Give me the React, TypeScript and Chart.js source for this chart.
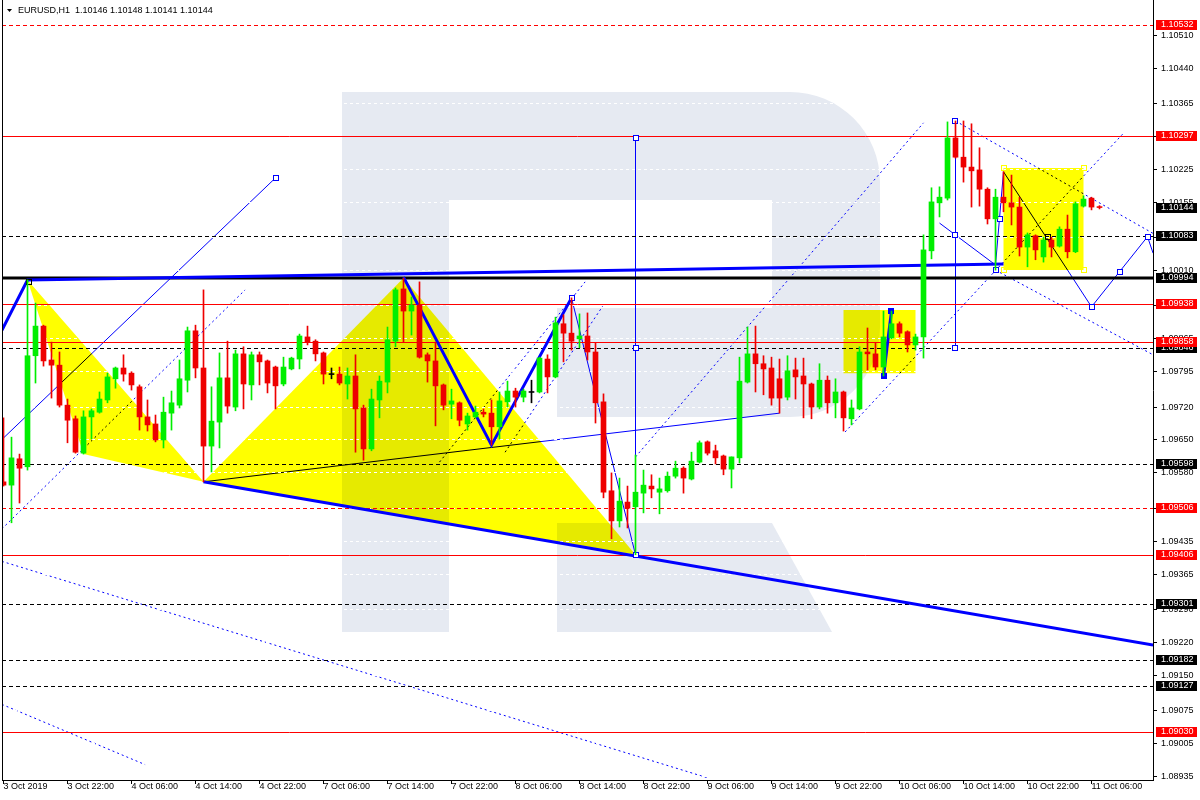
import React, { useEffect, useRef } from "react";
import { Chart, registerables } from "chart.js";

Chart.register(...registerables);

// ---------------- data (EURUSD H1, bar index 0 = 3 Oct 14:00) ----------------
const OPEN = [
  1.09561, 1.09554, 1.0961, 1.09593, 1.09829, 1.09892, 1.0982, 1.09809, 1.09724, 1.09695,
  1.09622, 1.09699, 1.09709, 1.09735, 1.0978, 1.09803, 1.09792, 1.09763, 1.09699, 1.09684,
  1.0965, 1.09707, 1.09724, 1.09777, 1.09882, 1.09803, 1.09637, 1.09688, 1.09782, 1.0972,
  1.09833, 1.09767, 1.09831, 1.09818, 1.09805, 1.09769, 1.09801, 1.09822, 1.09869, 1.0986,
  1.09835, 1.0979, 1.0979, 1.09769, 1.09786, 1.09718, 1.09631, 1.09735, 1.09773, 1.0986,
  1.09971, 1.09924, 1.09937, 1.09831, 1.09818, 1.09767, 1.09726, 1.09729, 1.09684, 1.09699,
  1.09709, 1.09707, 1.09678, 1.09731, 1.09754, 1.09741, 1.09752, 1.09752, 1.09822, 1.09784,
  1.09897, 1.09877, 1.09865, 1.09871, 1.09837, 1.09731, 1.09542, 1.09478, 1.09518, 1.09508,
  1.09537, 1.09552, 1.09539, 1.09542, 1.09573, 1.0959, 1.09567, 1.09603, 1.09646, 1.09627,
  1.09616, 1.09588, 1.09612, 1.09773, 1.09833, 1.09812, 1.09803, 1.0978, 1.09741, 1.09799,
  1.09786, 1.09769, 1.0972, 1.09777, 1.09729, 1.09752, 1.09695, 1.09716, 1.09837, 1.09833,
  1.09805, 1.09867, 1.09897, 1.0988, 1.09852, 1.09869, 1.10052, 1.10154, 1.10164, 1.10292,
  1.10251, 1.1023, 1.10224, 1.10183, 1.1012, 1.10166, 1.10154, 1.10145, 1.1006, 1.10084,
  1.10039, 1.10075, 1.10062, 1.10098, 1.1005, 1.10147, 1.10164, 1.10146,
];
const HIGH = [
  1.09697, 1.09656, 1.0962, 1.0999, 1.09941, 1.09894, 1.09858, 1.09837, 1.09737, 1.09701,
  1.09712, 1.09716, 1.09752, 1.09792, 1.09805, 1.09831, 1.09795, 1.09767, 1.09735, 1.09703,
  1.09741, 1.09754, 1.0982, 1.0989, 1.09894, 1.09969, 1.09763, 1.09835, 1.0986, 1.09841,
  1.09848, 1.09837, 1.09837, 1.0982, 1.09807, 1.09826, 1.09826, 1.09875, 1.09892, 1.09863,
  1.09837, 1.09803, 1.09805, 1.09803, 1.09831, 1.09724, 1.09758, 1.09786, 1.0989, 1.09973,
  1.09994, 1.09954, 1.09986, 1.09835, 1.09858, 1.09769, 1.09758, 1.09731, 1.09707, 1.09722,
  1.09716, 1.09735, 1.09752, 1.09775, 1.0976, 1.09758, 1.09777, 1.09826, 1.09831, 1.09911,
  1.09916, 1.09952, 1.09918, 1.0992, 1.09856, 1.09748, 1.0958, 1.09569, 1.09552, 1.09618,
  1.09586, 1.09576, 1.09569, 1.09582, 1.09605, 1.09593, 1.09624, 1.09648, 1.09648, 1.09639,
  1.09618, 1.09614, 1.09826, 1.0989, 1.09892, 1.09829, 1.09826, 1.09822, 1.09829, 1.09824,
  1.09824, 1.09771, 1.09812, 1.09786, 1.0978, 1.09754, 1.09735, 1.09848, 1.09888, 1.09856,
  1.09924, 1.09924, 1.09901, 1.09882, 1.09875, 1.10086, 1.10186, 1.10188, 1.10326, 1.10328,
  1.10328, 1.10322, 1.10271, 1.10186, 1.10183, 1.1022, 1.10213, 1.10166, 1.1009, 1.10086,
  1.10081, 1.10081, 1.10103, 1.10128, 1.10156, 1.10169, 1.10166, 1.10148,
];
const LOW = [
  1.09552, 1.09474, 1.09516, 1.09586, 1.09771, 1.09807, 1.09739, 1.0972, 1.09644, 1.09622,
  1.0962, 1.09652, 1.09707, 1.09729, 1.0976, 1.09775, 1.09756, 1.09671, 1.09669, 1.09646,
  1.09633, 1.09671, 1.09718, 1.09752, 1.09782, 1.09561, 1.09582, 1.09633, 1.09707, 1.09712,
  1.09716, 1.09735, 1.09767, 1.0975, 1.09716, 1.09765, 1.09799, 1.09801, 1.09852, 1.09818,
  1.09769, 1.0978, 1.09767, 1.09737, 1.09624, 1.09607, 1.09627, 1.09697, 1.0975, 1.09848,
  1.09858, 1.09873, 1.09824, 1.09773, 1.0968, 1.09714, 1.09695, 1.0968, 1.09671, 1.09697,
  1.09699, 1.09639, 1.09652, 1.0972, 1.0972, 1.09731, 1.09729, 1.0975, 1.0975, 1.09782,
  1.09816, 1.09841, 1.09846, 1.0982, 1.09686, 1.09527, 1.0944, 1.09465, 1.09463, 1.09406,
  1.09495, 1.09527, 1.09493, 1.09539, 1.09569, 1.09537, 1.09565, 1.09601, 1.09618, 1.09599,
  1.09576, 1.09548, 1.09601, 1.09771, 1.09752, 1.09746, 1.09724, 1.09707, 1.09735, 1.09737,
  1.09697, 1.09695, 1.09716, 1.09707, 1.09697, 1.09669, 1.09682, 1.09714, 1.09799, 1.09799,
  1.09786, 1.09865, 1.09869, 1.09837, 1.09841, 1.09824, 1.10035, 1.10124, 1.1016, 1.10249,
  1.10198, 1.10145, 1.10147, 1.10109, 1.10011, 1.10135, 1.10107, 1.10041, 1.10018, 1.10033,
  1.10028, 1.10039, 1.1006, 1.10037, 1.10048, 1.10145, 1.10139, 1.10141,
];
const CLOSE = [
  1.09554, 1.09612, 1.0959, 1.09829, 1.09892, 1.09818, 1.09809, 1.09724, 1.09692, 1.09624,
  1.09699, 1.09712, 1.09737, 1.09784, 1.09803, 1.0979, 1.09767, 1.09699, 1.09682, 1.0965,
  1.09709, 1.09729, 1.0978, 1.09882, 1.09803, 1.09637, 1.0969, 1.09782, 1.09722, 1.09833,
  1.09769, 1.09831, 1.09816, 1.09771, 1.09765, 1.09805, 1.09824, 1.09871, 1.09858, 1.09833,
  1.0979, 1.0979, 1.09771, 1.09786, 1.09716, 1.09631, 1.09737, 1.09775, 1.09863, 1.09969,
  1.09924, 1.09937, 1.09826, 1.09818, 1.09765, 1.09724, 1.09733, 1.09692, 1.09701, 1.09709,
  1.09705, 1.09678, 1.09733, 1.09754, 1.09741, 1.09754, 1.09752, 1.09824, 1.09784, 1.09899,
  1.09877, 1.0986, 1.09871, 1.09837, 1.09729, 1.09539, 1.09478, 1.0952, 1.09505, 1.09539,
  1.09554, 1.09546, 1.09546, 1.09573, 1.0959, 1.09569, 1.09605, 1.09644, 1.09622, 1.09612,
  1.09588, 1.09614, 1.09775, 1.09833, 1.09812, 1.09801, 1.09739, 1.09739, 1.09797, 1.09784,
  1.09769, 1.0972, 1.09777, 1.09729, 1.09752, 1.09697, 1.09718, 1.09837, 1.09833, 1.09805,
  1.09869, 1.09897, 1.09877, 1.09852, 1.09869, 1.10054, 1.10156, 1.10166, 1.10292, 1.10251,
  1.1023, 1.10222, 1.10183, 1.1012, 1.10166, 1.10154, 1.10145, 1.1006, 1.10086, 1.10054,
  1.10075, 1.1006, 1.10098, 1.1005, 1.10152, 1.10162, 1.10145, 1.10144,
];

const X_TICK_BARS = [0, 8, 16, 24, 32, 40, 48, 56, 64, 72, 80, 88, 96, 104, 112, 120, 128, 136];
const X_TICK_LABELS = [
  "3 Oct 2019", "3 Oct 22:00", "4 Oct 06:00", "4 Oct 14:00", "4 Oct 22:00", "7 Oct 06:00",
  "7 Oct 14:00", "7 Oct 22:00", "8 Oct 06:00", "8 Oct 14:00", "8 Oct 22:00", "9 Oct 06:00",
  "9 Oct 14:00", "9 Oct 22:00", "10 Oct 06:00", "10 Oct 14:00", "10 Oct 22:00", "11 Oct 06:00",
];
const Y_TICKS = [
  1.1051, 1.1044, 1.10365, 1.10295, 1.10225, 1.10155, 1.1008, 1.1001, 1.09935, 1.09865,
  1.09795, 1.0972, 1.0965, 1.0958, 1.09505, 1.09435, 1.09365, 1.0929, 1.0922, 1.0915,
  1.09075, 1.09005, 1.08935,
];

// horizontal levels
const LEVEL_PRICES = [1.10532, 1.10297, 1.10083, 1.09994, 1.09938, 1.09846, 1.09858, 1.09598, 1.09506, 1.09406, 1.09301, 1.09182, 1.09127, 1.0903];
const LEVEL_COLORS = ["red", "red", "black", "black", "red", "black", "red", "black", "red", "red", "black", "black", "black", "red"];
const LEVEL_STYLES = ["dash", "solid", "dash", "thick", "solid", "dash", "solid", "dash", "dash", "solid", "dash", "dash", "dash", "solid"];
const BID = 1.10144;
const HEADER = "EURUSD,H1  1.10146 1.10148 1.10141 1.10144";

// analysis objects: points are [bar index, price]
const THICK_LINES = [
  [[-0.2, 1.09883], [3, 1.0999], [125, 1.10024]],
  [[50, 1.09996], [61, 1.09639], [71, 1.09952]],
  [[25, 1.09561], [143.7, 1.09214]],
  [[110, 1.09786], [111, 1.09924]],
];
const THIN_LINES = [
  [[-0.2, 1.09651], [34, 1.10207]],
  [[25, 1.09561], [97, 1.09707]],
  [[71, 1.09952], [79, 1.09406]],
  [[79, 1.10292], [79, 1.09406]],
  [[119, 1.10328], [119, 1.09846]],
  [[117, 1.10111], [124, 1.10022], [125, 1.1022]],
  [[125, 1.1022], [136, 1.09933], [143, 1.10082], [143.7, 1.10047]],
];
const DOTTED_LINES = [
  [[-0.2, 1.09461], [30.2, 1.09969]],
  [[-0.2, 1.09392], [88, 1.08932]],
  [[-0.2, 1.09088], [17.7, 1.0896]],
  [[54.5, 1.09603], [72.7, 1.09986]],
  [[62.7, 1.09624], [75, 1.09937]],
  [[79, 1.09614], [115, 1.10324]],
  [[105.2, 1.09667], [140, 1.10302]],
  [[119, 1.10328], [143.7, 1.10089]],
  [[124, 1.10011], [143.7, 1.09831]],
];
const YELLOW_SHAPES = [
  [[3, 1.0999], [10, 1.0962], [25, 1.09561]],
  [[25, 1.09561], [50, 1.09994], [79, 1.09406]],
  [[105, 1.09926], [114, 1.09926], [114, 1.09792], [105, 1.09792]],
  [[125, 1.10228], [135, 1.10228], [135, 1.10011], [125, 1.10011]],
];
const MARKERS = [
  [34, 1.10207], [71, 1.09952], [79, 1.10292], [79, 1.09846], [79, 1.09406],
  [119, 1.10328], [119, 1.10086], [119, 1.09846], [124, 1.10011], [124.5, 1.1012],
  [136, 1.09933], [139.5, 1.10008], [143, 1.10082],
];
const BLACK_MARKERS = [[130.5, 1.10082], [3.2, 1.09986]];
const FILLED_MARKERS = [[110, 1.09786], [111, 1.09924]];
const YELLOW_MARKERS = [[125, 1.10228], [135, 1.10228], [125, 1.10011], [135, 1.10011]];

// ---------------- appearance ----------------
const X_MIN = -0.1875;
const X_MAX = 143.6875;
const Y_MIN = 1.089273;
const Y_MAX = 1.105851;
const BULL = "#00EE00";
const BEAR = "#EE0000";
const BLUE = "#0000FF";
const RED = "#FF0000";
const LOGO = "#E6EAF2";
const FONT = "Liberation Sans";

function candleColor(i: number) {
  if (OPEN[i] === CLOSE[i]) return "#000000";
  return CLOSE[i] > OPEN[i] ? BULL : BEAR;
}

const overlay = {
  id: "mtOverlay",
  beforeDraw(chart: any) {
    const { ctx, chartArea: a } = chart;
    const xs = chart.scales.x;
    const ys = chart.scales.y;
    const X = (b: number) => xs.getPixelForValue(b);
    const Y = (p: number) => ys.getPixelForValue(p);
    ctx.save();
    ctx.fillStyle = "#FFFFFF";
    ctx.fillRect(0, 0, chart.width, chart.height);

    // watermark logo
    ctx.fillStyle = LOGO;
    ctx.fillRect(342, 92, 107, 540);
    ctx.beginPath();
    ctx.moveTo(449, 92);
    ctx.lineTo(790, 92);
    ctx.arcTo(880, 92, 880, 182, 90);
    ctx.lineTo(880, 327);
    ctx.arcTo(880, 417, 790, 417, 90);
    ctx.lineTo(557, 417);
    ctx.lineTo(557, 308);
    ctx.lineTo(772, 308);
    ctx.lineTo(772, 200);
    ctx.lineTo(449, 200);
    ctx.closePath();
    ctx.fill();
    ctx.beginPath();
    ctx.moveTo(557, 523);
    ctx.lineTo(772, 523);
    ctx.lineTo(832, 632);
    ctx.lineTo(557, 632);
    ctx.closePath();
    ctx.fill();

    ctx.beginPath();
    ctx.rect(a.left, a.top, a.right - a.left, a.bottom - a.top);
    ctx.clip();

    const poly = (pts: number[][]) => {
      ctx.beginPath();
      pts.forEach((pt, k) => (k ? ctx.lineTo(X(pt[0]), Y(pt[1])) : ctx.moveTo(X(pt[0]), Y(pt[1]))));
      ctx.stroke();
    };
    ctx.strokeStyle = BLUE;
    ctx.lineWidth = 1;
    THIN_LINES.forEach(poly);
    ctx.setLineDash([2, 3]);
    DOTTED_LINES.forEach(poly);
    ctx.setLineDash([]);

    ctx.globalCompositeOperation = "multiply";
    ctx.fillStyle = "#FFFF00";
    YELLOW_SHAPES.forEach((pts) => {
      ctx.beginPath();
      pts.forEach((pt, k) => (k ? ctx.lineTo(X(pt[0]), Y(pt[1])) : ctx.moveTo(X(pt[0]), Y(pt[1]))));
      ctx.closePath();
      ctx.fill();
    });
    ctx.restore();
  },
  beforeDatasetsDraw(chart: any) {
    const { ctx, chartArea: a } = chart;
    const xs = chart.scales.x;
    const ys = chart.scales.y;
    const X = (b: number) => xs.getPixelForValue(b);
    const Y = (p: number) => ys.getPixelForValue(p);
    ctx.save();
    ctx.beginPath();
    ctx.rect(a.left, a.top, a.right - a.left, a.bottom - a.top);
    ctx.clip();

    LEVEL_PRICES.forEach((p, i) => {
      const style = LEVEL_STYLES[i];
      const y = Math.round(Y(p));
      ctx.strokeStyle = LEVEL_COLORS[i] === "red" ? RED : "#000000";
      ctx.lineWidth = style === "thick" ? 3 : 1;
      ctx.setLineDash(style === "dash" ? [4, 3] : []);
      const yy = style === "thick" ? y : y + 0.5;
      ctx.beginPath();
      ctx.moveTo(a.left, yy);
      ctx.lineTo(a.right, yy);
      ctx.stroke();
    });
    ctx.setLineDash([]);

    ctx.strokeStyle = BLUE;
    ctx.lineWidth = 3;
    ctx.lineJoin = "miter";
    THICK_LINES.forEach((pts) => {
      ctx.beginPath();
      pts.forEach((pt, k) => (k ? ctx.lineTo(X(pt[0]), Y(pt[1])) : ctx.moveTo(X(pt[0]), Y(pt[1]))));
      ctx.stroke();
    });

    ctx.lineWidth = 1;
    const sq = (pt: number[], fill: string, stroke: string) => {
      const x = Math.round(X(pt[0]));
      const y = Math.round(Y(pt[1]));
      ctx.fillStyle = fill;
      ctx.fillRect(x - 2, y - 2, 5, 5);
      ctx.strokeStyle = stroke;
      ctx.strokeRect(x - 2.5, y - 2.5, 5, 5);
    };
    MARKERS.forEach((pt) => sq(pt, "#FFFFFF", BLUE));
    BLACK_MARKERS.forEach((pt) => sq(pt, "rgba(0,0,0,0)", "#000000"));
    FILLED_MARKERS.forEach((pt) => sq(pt, BLUE, BLUE));
    YELLOW_MARKERS.forEach((pt) => sq(pt, "rgba(0,0,0,0)", "#FFFF00"));
    ctx.restore();
  },
  afterDraw(chart: any) {
    const { ctx, chartArea: a } = chart;
    const ys = chart.scales.y;
    ctx.save();
    // left frame
    ctx.strokeStyle = "#000000";
    ctx.lineWidth = 1;
    ctx.beginPath();
    ctx.moveTo(a.left + 0.5, a.top);
    ctx.lineTo(a.left + 0.5, a.bottom);
    ctx.stroke();

    // price tags
    ctx.font = `9px "${FONT}"`;
    ctx.textBaseline = "middle";
    ctx.textAlign = "left";
    const tag = (p: number, bg: string) => {
      const y = Math.round(ys.getPixelForValue(p));
      ctx.fillStyle = bg;
      ctx.fillRect(a.right + 3, y - 5, 41, 10);
      ctx.fillStyle = "#FFFFFF";
      ctx.fillText(p.toFixed(5), a.right + 8, y);
    };
    LEVEL_PRICES.forEach((p, i) => {
      if (LEVEL_COLORS[i] === "black") tag(p, "#000000");
    });
    tag(BID, "#000000");
    LEVEL_PRICES.forEach((p, i) => {
      if (LEVEL_COLORS[i] === "red") tag(p, RED);
    });

    // header
    ctx.fillStyle = "#000000";
    ctx.beginPath();
    ctx.moveTo(7, 9);
    ctx.lineTo(12, 9);
    ctx.lineTo(9.5, 12);
    ctx.closePath();
    ctx.fill();
    ctx.fillText(HEADER, 18, 10.5);
    ctx.restore();
  },
};

export default function App() {
  const ref = useRef<HTMLCanvasElement | null>(null);
  useEffect(() => {
    document.body.style.margin = "0";
    const canvas = ref.current;
    if (!canvas) return;
    Chart.defaults.font.family = FONT;
    const bodies = OPEN.map((o, i) => ({
      x: i,
      y: o === CLOSE[i] ? [o - 0.00001, o + 0.00001] : [o, CLOSE[i]],
    }));
    const wicks = LOW.map((l, i) => ({ x: i, y: [l, HIGH[i]] }));
    const colors = OPEN.map((_, i) => candleColor(i));
    const chart = new Chart(canvas, {
      type: "bar",
      data: {
        datasets: [
          {
            data: bodies as any,
            backgroundColor: colors,
            borderWidth: 0,
            barThickness: 5,
            grouped: false,
          } as any,
          {
            data: wicks as any,
            backgroundColor: colors,
            borderWidth: 0,
            barThickness: 1,
            grouped: false,
          } as any,
        ],
      },
      options: {
        responsive: false,
        animation: false,
        events: [],
        layout: { padding: { left: 2, top: 0, right: 0, bottom: 0 } },
        plugins: { legend: { display: false }, tooltip: { enabled: false } },
        scales: {
          x: {
            type: "linear",
            min: X_MIN,
            max: X_MAX,
            offset: false,
            grid: {
              display: true,
              drawOnChartArea: false,
              drawTicks: true,
              tickLength: 4,
              tickColor: "#000000",
              offset: false,
            },
            border: { display: true, color: "#000000", width: 1 },
            ticks: {
              autoSkip: false,
              maxRotation: 0,
              minRotation: 0,
              align: "start",
              padding: -3,
              color: "#000000",
              font: { family: FONT, size: 9 },
              callback: (v: any) => {
                const k = X_TICK_BARS.indexOf(Number(v));
                return k >= 0 ? X_TICK_LABELS[k] : "";
              },
            },
            afterBuildTicks: (s: any) => {
              s.ticks = X_TICK_BARS.map((v) => ({ value: v }));
            },
            afterFit: (s: any) => {
              s.height = 20;
              s.paddingLeft = 0;
              s.paddingRight = 0;
            },
          } as any,
          y: {
            type: "linear",
            position: "right",
            min: Y_MIN,
            max: Y_MAX,
            beginAtZero: false,
            grid: {
              display: true,
              drawOnChartArea: true,
              color: "#FFFFFF",
              drawTicks: true,
              tickLength: 4,
              tickColor: "#000000",
            },
            border: { display: true, color: "#000000", width: 1, dash: [3, 3] },
            ticks: {
              autoSkip: false,
              padding: 4,
              color: "#000000",
              font: { family: FONT, size: 9 },
              callback: (v: any) => Number(v).toFixed(5),
            },
            afterBuildTicks: (s: any) => {
              s.ticks = Y_TICKS.map((v) => ({ value: v }));
            },
            afterFit: (s: any) => {
              s.width = 47;
              s.paddingTop = 0;
              s.paddingBottom = 0;
            },
          } as any,
        },
      },
      plugins: [overlay as any],
    });
    return () => chart.destroy();
  }, []);
  return (
    <div style={{ width: 1200, height: 800, position: "relative" }}>
      <canvas ref={ref} width={1200} height={800} style={{ display: "block" }} />
    </div>
  );
}
